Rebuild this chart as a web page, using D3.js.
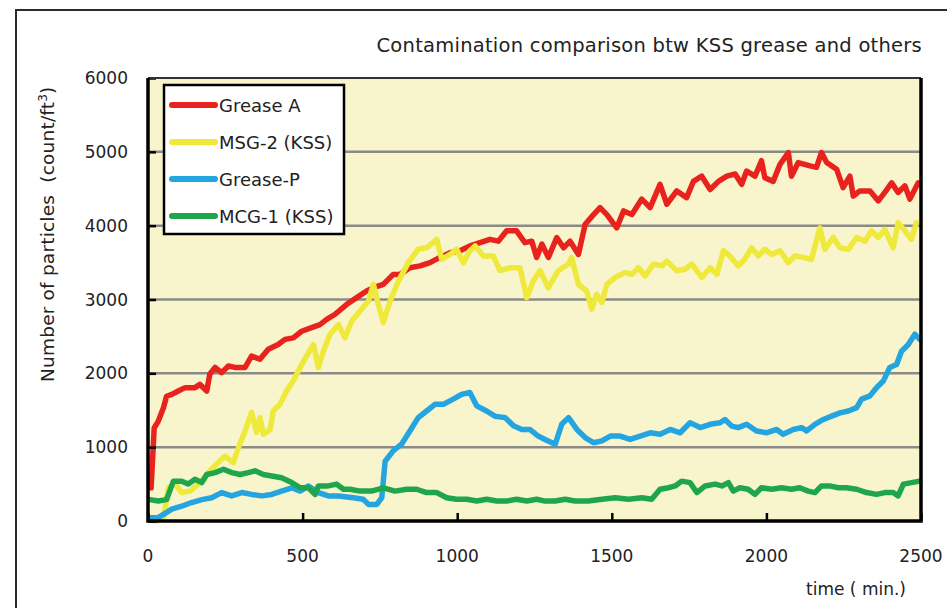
<!DOCTYPE html>
<html lang="en">
<head>
<meta charset="utf-8">
<script src="https://d3js.org/d3.v7.min.js"></script>
<style>
  html, body { margin: 0; padding: 0; background: #fff; }
  svg { display: block; font-family: "DejaVu Sans", sans-serif; }
  .tick-label { font-size: 17px; fill: #222; }
</style>
</head>
<body>
<div id="chart"></div>
<script>
// data: [time (min), count/ft3]
var greaseA = [[10,450],[20,1260],[33,1350],[50,1535],[60,1690],[77,1715],[98,1760],[120,1806],[152,1806],[168,1850],[190,1760],[200,1990],[217,2080],[238,2010],[260,2100],[281,2080],[314,2080],[335,2235],[362,2190],[389,2325],[421,2390],[443,2460],[470,2480],[497,2570],[529,2620],[556,2660],[578,2730],[605,2800],[643,2935],[675,3025],[707,3115],[729,3160],[761,3205],[793,3340],[815,3340],[847,3430],[880,3455],[912,3500],[944,3570],[977,3635],[1009,3660],[1041,3725],[1074,3770],[1106,3815],[1133,3790],[1160,3930],[1192,3930],[1219,3770],[1241,3790],[1257,3570],[1274,3750],[1295,3570],[1322,3840],[1344,3700],[1365,3790],[1392,3610],[1414,4020],[1441,4150],[1462,4245],[1484,4150],[1516,3970],[1538,4200],[1565,4150],[1597,4360],[1624,4245],[1656,4560],[1678,4290],[1710,4470],[1742,4380],[1764,4600],[1791,4670],[1818,4490],[1845,4600],[1872,4670],[1899,4700],[1920,4560],[1936,4740],[1963,4670],[1984,4880],[1995,4650],[2022,4600],[2044,4830],[2071,4990],[2081,4670],[2103,4855],[2141,4810],[2162,4790],[2178,4990],[2195,4855],[2227,4765],[2248,4515],[2270,4670],[2281,4400],[2302,4470],[2335,4470],[2362,4335],[2383,4450],[2405,4580],[2426,4450],[2448,4540],[2464,4360],[2491,4580]];

var msg2 = [[5,20],[30,0],[50,30],[66,450],[87,500],[109,385],[136,405],[163,500],[195,655],[222,770],[249,880],[276,790],[292,990],[314,1220],[335,1470],[351,1200],[362,1400],[373,1175],[395,1240],[405,1490],[427,1580],[448,1760],[470,1900],[492,2080],[513,2235],[535,2390],[551,2080],[567,2300],[589,2530],[616,2660],[637,2480],[659,2710],[686,2845],[713,2980],[729,3205],[745,2935],[761,2690],[783,2980],[810,3250],[842,3500],[874,3680],[901,3700],[934,3815],[950,3545],[977,3610],[998,3680],[1020,3500],[1041,3660],[1058,3725],[1085,3590],[1117,3590],[1138,3390],[1171,3430],[1203,3430],[1225,3025],[1246,3250],[1268,3390],[1295,3160],[1327,3390],[1360,3480],[1370,3570],[1392,3205],[1419,3115],[1435,2870],[1451,3070],[1468,2960],[1484,3205],[1511,3300],[1543,3365],[1565,3340],[1586,3430],[1608,3320],[1635,3480],[1662,3455],[1678,3520],[1710,3390],[1737,3410],[1759,3480],[1791,3300],[1818,3430],[1840,3340],[1861,3660],[1882,3590],[1909,3455],[1930,3545],[1952,3700],[1974,3590],[1995,3680],[2017,3610],[2044,3660],[2071,3500],[2092,3590],[2119,3570],[2146,3545],[2173,3970],[2189,3680],[2216,3840],[2238,3700],[2265,3680],[2292,3840],[2319,3790],[2340,3930],[2362,3840],[2383,3950],[2410,3700],[2426,4040],[2448,3930],[2469,3815],[2485,4040]];

var greaseP = [[5,45],[33,45],[50,90],[77,160],[109,200],[141,250],[174,290],[206,315],[238,385],[271,340],[303,385],[335,360],[368,340],[400,360],[432,405],[465,450],[492,405],[519,475],[551,385],[583,340],[616,340],[664,315],[696,295],[713,225],[740,225],[756,315],[767,810],[793,950],[820,1040],[847,1220],[874,1400],[901,1490],[928,1580],[955,1580],[987,1650],[1014,1715],[1041,1740],[1063,1560],[1095,1490],[1122,1420],[1155,1400],[1182,1290],[1209,1240],[1235,1240],[1262,1150],[1284,1105],[1317,1040],[1338,1310],[1360,1400],[1387,1240],[1414,1130],[1441,1060],[1468,1085],[1495,1150],[1527,1150],[1559,1105],[1592,1150],[1624,1195],[1656,1175],[1689,1240],[1721,1195],[1753,1330],[1786,1265],[1818,1310],[1850,1330],[1866,1375],[1888,1285],[1909,1265],[1936,1310],[1968,1220],[2000,1195],[2033,1240],[2054,1175],[2087,1240],[2114,1265],[2130,1220],[2157,1310],[2184,1375],[2211,1420],[2238,1465],[2265,1490],[2292,1535],[2308,1650],[2335,1695],[2356,1805],[2378,1895],[2399,2080],[2421,2120],[2437,2300],[2459,2390],[2480,2530],[2496,2460]];

var mcg1 = [[6,290],[33,270],[60,290],[82,540],[109,540],[130,500],[152,565],[174,520],[190,630],[217,655],[244,700],[271,655],[298,630],[324,655],[346,680],[373,630],[400,610],[432,585],[465,520],[492,450],[519,450],[540,360],[551,475],[583,475],[610,500],[632,430],[653,430],[686,405],[723,405],[761,450],[799,405],[837,430],[869,430],[901,385],[934,385],[966,315],[998,295],[1031,295],[1063,270],[1095,295],[1128,270],[1160,270],[1192,295],[1225,270],[1257,295],[1284,270],[1317,270],[1349,295],[1381,270],[1424,270],[1468,295],[1511,315],[1554,295],[1597,315],[1629,295],[1656,430],[1683,450],[1705,475],[1726,540],[1753,520],[1775,385],[1802,475],[1834,500],[1856,475],[1877,520],[1893,405],[1914,450],[1941,430],[1963,360],[1984,450],[2017,430],[2049,450],[2081,430],[2108,450],[2135,405],[2157,385],[2178,475],[2205,475],[2232,450],[2259,450],[2292,430],[2324,385],[2356,360],[2383,385],[2410,385],[2426,340],[2443,500],[2469,520],[2496,540]];

var seriesNames = ["Grease A", "MSG-2 (KSS)", "Grease-P", "MCG-1 (KSS)"];
var seriesColors = ["#e8231d", "#efe93c", "#25a5df", "#1fa64b"];
var xTicks = [0, 500, 1000, 1500, 2000, 2500];
var yTicks = [0, 1000, 2000, 3000, 4000, 5000, 6000];

var W = 947, H = 608;
var plot = {left: 148, top: 78, right: 921, bottom: 521};

var svg = d3.select("#chart").append("svg")
    .attr("width", W)
    .attr("height", H);

// outer figure frame (runs off the right and bottom edges)
svg.append("rect")
    .attr("x", 16).attr("y", 10)
    .attr("width", 1000).attr("height", 700)
    .attr("fill", "none")
    .attr("stroke", "#2b2b2b")
    .attr("stroke-width", 2);

var x = d3.scaleLinear().domain([0, 2500]).range([plot.left, plot.right]);
var y = d3.scaleLinear().domain([0, 6000]).range([plot.bottom, plot.top]);

svg.append("rect")
    .attr("x", plot.left).attr("y", plot.top)
    .attr("width", plot.right - plot.left)
    .attr("height", plot.bottom - plot.top)
    .attr("fill", "#f8f5cd");

// grid lines
svg.append("g").selectAll("line")
    .data(yTicks.filter(function(d) { return d > 0 && d < 6000; }))
    .enter().append("line")
    .attr("x1", plot.left).attr("x2", plot.right)
    .attr("y1", function(d) { return y(d); })
    .attr("y2", function(d) { return y(d); })
    .attr("stroke", "#8a8a86")
    .attr("stroke-width", 2.5);

// series
var line = d3.line()
    .x(function(d) { return x(d[0]); })
    .y(function(d) { return y(d[1]); })
    .curve(d3.curveLinear);

var allSeries = [greaseA, msg2, greaseP, mcg1];
svg.append("g").selectAll("path")
    .data(allSeries)
    .enter().append("path")
    .attr("d", line)
    .attr("fill", "none")
    .attr("stroke", function(d, i) { return seriesColors[i]; })
    .attr("stroke-width", 5.5)
    .attr("stroke-linejoin", "round")
    .attr("stroke-linecap", "round");

// axes: ticks point inwards, labels drawn separately
var xAxis = d3.axisTop(x).tickValues(xTicks).tickSize(8).tickFormat("");
var gx = svg.append("g")
    .attr("transform", "translate(0," + plot.bottom + ")")
    .call(xAxis);
gx.select(".domain").remove();
gx.selectAll(".tick line").attr("stroke", "#000").attr("stroke-width", 2.5);

var yAxis = d3.axisRight(y).tickValues(yTicks).tickSize(8).tickFormat("");
var gy = svg.append("g")
    .attr("transform", "translate(" + plot.left + ",0)")
    .call(yAxis);
gy.select(".domain").remove();
gy.selectAll(".tick line").attr("stroke", "#000").attr("stroke-width", 2.5);

// plot frame
svg.append("line").attr("x1", plot.left).attr("x2", plot.right)
    .attr("y1", plot.top).attr("y2", plot.top)
    .attr("stroke", "#333").attr("stroke-width", 2);
svg.append("path")
    .attr("d", "M" + plot.left + "," + plot.top + "V" + plot.bottom + "H" + plot.right + "V" + plot.top)
    .attr("fill", "none")
    .attr("stroke", "#000")
    .attr("stroke-width", 3.5);

svg.append("g").selectAll("text")
    .data(xTicks).enter().append("text")
    .attr("class", "tick-label")
    .attr("x", function(d) { return x(d); })
    .attr("y", 562)
    .attr("text-anchor", "middle")
    .text(function(d) { return d; });

svg.append("g").selectAll("text")
    .data(yTicks).enter().append("text")
    .attr("class", "tick-label")
    .attr("x", 128)
    .attr("y", function(d) { return y(d) + 6; })
    .attr("text-anchor", "end")
    .text(function(d) { return d; });

// titles
svg.append("text")
    .attr("x", 922).attr("y", 52)
    .attr("text-anchor", "end")
    .style("font-size", "19.5px")
    .style("letter-spacing", "0.25px")
    .attr("fill", "#222")
    .text("Contamination comparison btw KSS grease and others");

svg.append("text")
    .attr("x", 906).attr("y", 595)
    .attr("text-anchor", "end")
    .style("font-size", "17px")
    .attr("fill", "#222")
    .style("white-space", "pre")
    .text("time ( min.)");

var yl = svg.append("text")
    .attr("transform", "translate(54,382) rotate(-90)")
    .attr("text-anchor", "start")
    .style("font-size", "18.5px")
    .style("letter-spacing", "0.2px")
    .style("white-space", "pre")
    .attr("fill", "#222");
yl.append("tspan").text("Number of particles  (count/ft");
yl.append("tspan").attr("baseline-shift", "super").style("font-size", "12px").text("3");
yl.append("tspan").text(")");

// legend
var legend = svg.append("g");
legend.append("rect")
    .attr("x", 164).attr("y", 85)
    .attr("width", 180).attr("height", 149)
    .attr("fill", "#fff")
    .attr("stroke", "#000")
    .attr("stroke-width", 2.5);

var legendY = [105, 142, 179, 216];
var items = legend.selectAll("g.item")
    .data(seriesNames).enter().append("g")
    .attr("class", "item")
    .attr("transform", function(d, i) { return "translate(0," + legendY[i] + ")"; });
items.append("line")
    .attr("x1", 172).attr("x2", 215)
    .attr("stroke", function(d, i) { return seriesColors[i]; })
    .attr("stroke-width", 6)
    .attr("stroke-linecap", "round");
items.append("text")
    .attr("x", 219).attr("y", 6.5)
    .style("font-size", "18px")
    .attr("fill", "#222")
    .text(function(d) { return d; });
</script>
</body>
</html>
